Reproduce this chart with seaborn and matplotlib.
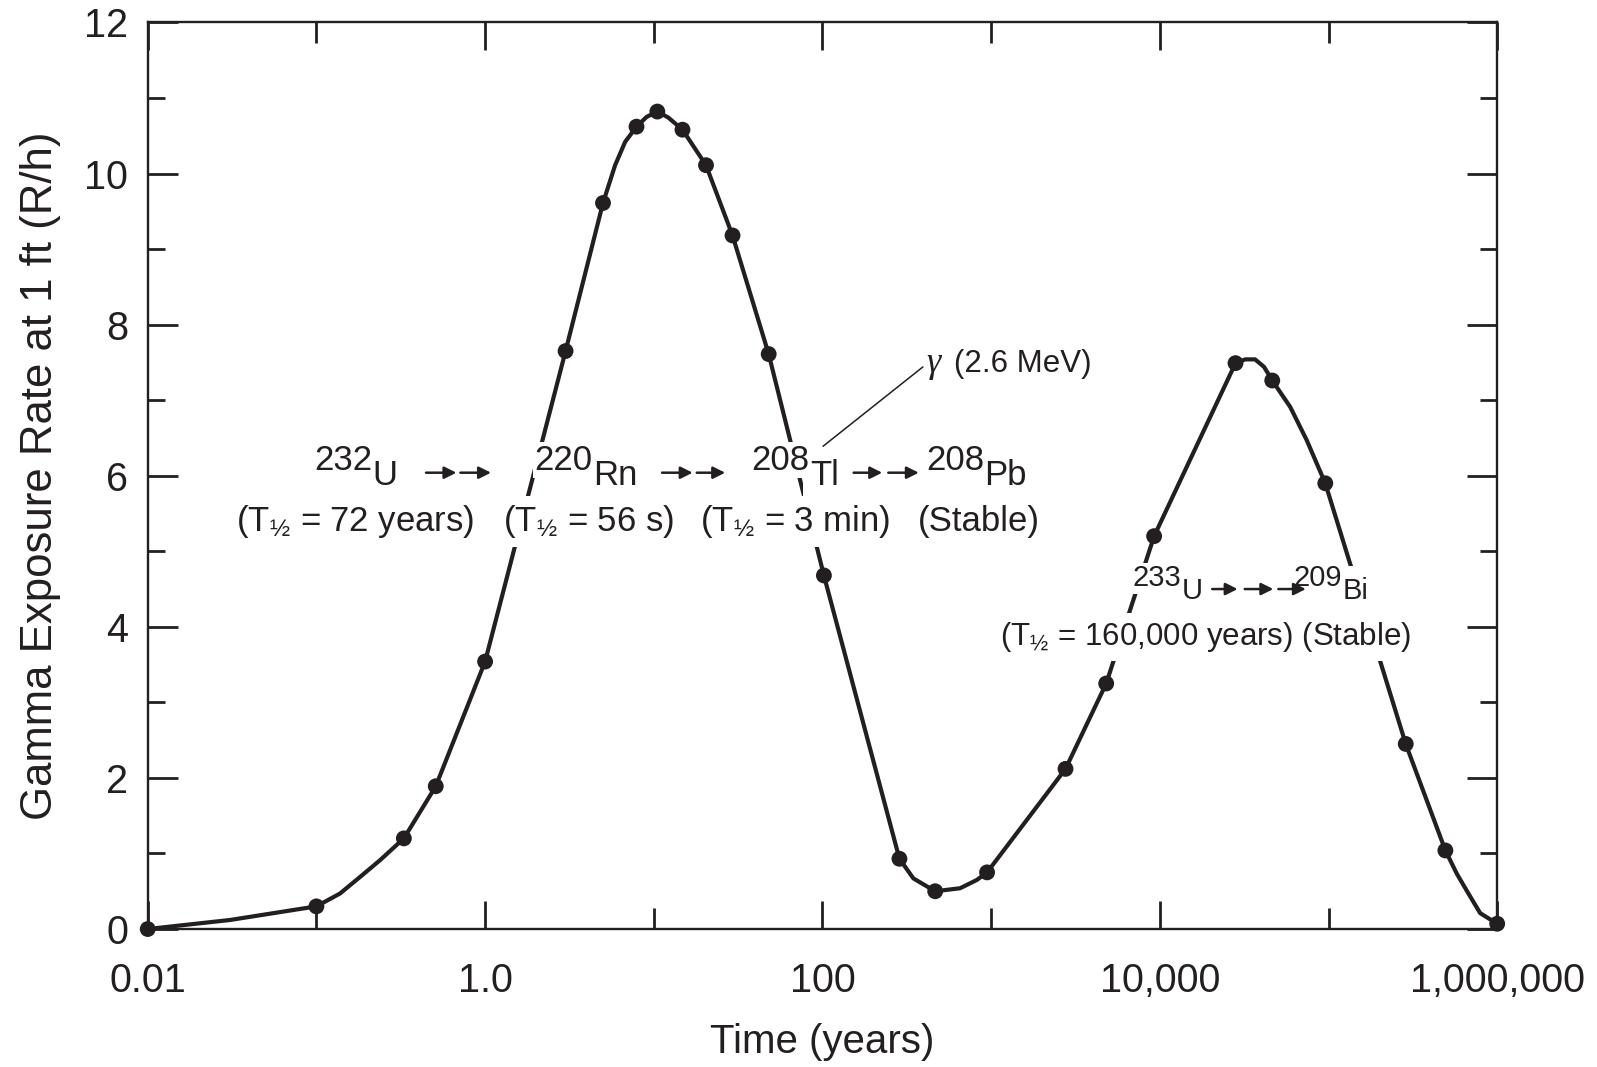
import numpy as np
import pandas as pd
import seaborn as sns
import matplotlib
matplotlib.use('Agg')
import matplotlib.pyplot as plt

# =============================================================================
# Data
# =============================================================================
# measured points (dots)
time_years = [0.01, 0.1, 0.33, 0.51, 1.0, 3.0, 5.0, 7.9, 10.5, 14.8, 20.4,
              29.3, 48, 102, 286, 466, 946, 2760, 4810, 9250, 28100, 46400,
              95700, 287000, 493000, 1.0e6]
exposure = [0.0, 0.30, 1.20, 1.89, 3.54, 7.65, 9.61, 10.62, 10.82, 10.58,
            10.11, 9.18, 7.61, 4.68, 0.93, 0.50, 0.75, 2.12, 3.25, 5.20,
            7.49, 7.26, 5.90, 2.45, 1.04, 0.07]

# the drawn curve: dots plus extra points
curve_time = [0.01, 0.0308, 0.1, 0.138, 0.1816, 0.238, 0.33, 0.51, 1.0,
              3.0, 5.0, 5.90, 6.77, 7.9, 9.08, 10.5, 12.2, 14.8, 20.4, 29.3,
              48, 102, 286, 346, 466, 655, 823, 946, 2760, 4810, 9250,
              28100, 32100, 36700, 41500, 46400, 59300, 74300, 95700,
              287000, 493000, 577000, 692000, 793000, 1.0e6]
curve_rate = [0.0, 0.12, 0.30, 0.47, 0.69, 0.91, 1.20, 1.89, 3.54,
              7.65, 9.61, 10.11, 10.42, 10.62, 10.75, 10.82, 10.74, 10.58,
              10.11, 9.18, 7.61, 4.68, 0.93, 0.67, 0.50, 0.54, 0.65, 0.75,
              2.12, 3.25, 5.20, 7.49, 7.54, 7.54, 7.44, 7.26, 6.91,
              6.47, 5.90, 2.45, 1.04, 0.73, 0.43, 0.21, 0.07]

x_major = [0.01, 1.0, 100, 1e4, 1e6]
x_minor = [0.1, 10, 1e3, 1e5]
x_labels = ['0.01', '1.0', '100', '10,000', '1,000,000']

k = '#231f20'

sns.set_theme(style='ticks')
plt.rcParams['font.family'] = ['Liberation Sans', 'DejaVu Sans']
plt.rcParams['mathtext.fontset'] = 'custom'
plt.rcParams['mathtext.rm'] = 'Liberation Sans'
plt.rcParams['mathtext.it'] = 'Liberation Sans:italic'
plt.rcParams['mathtext.default'] = 'regular'

pts = pd.DataFrame({'time': time_years, 'rate': exposure})
curve = pd.DataFrame({'time': curve_time, 'rate': curve_rate})

fig, ax = plt.subplots(figsize=(15.97, 10.67), dpi=100)
fig.subplots_adjust(left=0.0925, right=0.9375, bottom=0.1293, top=0.979)

sns.lineplot(data=curve, x='time', y='rate', ax=ax, color=k, lw=3.0,
             sort=False, estimator=None, zorder=2)
sns.scatterplot(data=pts, x='time', y='rate', ax=ax, color=k, s=130,
                edgecolor='none', zorder=4)
ax.collections[-1].set_clip_on(False)

ax.set_xscale('log')
ax.set_xlim(0.01, 1e6)
ax.set_ylim(0, 12)
ax.set_xticks(x_major)
ax.set_xticklabels(x_labels)
ax.set_xticks(x_minor, minor=True)
ax.set_xticklabels([], minor=True)
ax.set_yticks(range(0, 13, 2))
ax.set_yticks(range(1, 12, 2), minor=True)

ax.tick_params(which='both', direction='in', top=True, right=True,
               color=k, width=2.0, labelsize=28.5, labelcolor=k)
ax.tick_params(axis='x', which='major', length=20, pad=24)
ax.tick_params(axis='x', which='minor', length=15)
ax.tick_params(axis='y', which='major', length=21.5, pad=14)
ax.tick_params(axis='y', which='minor', length=12)
for sp in ax.spines.values():
    sp.set_linewidth(1.7)
    sp.set_color(k)

ax.set_xlabel('Time (years)', fontsize=29, color=k, labelpad=16)
ax.set_ylabel('Gamma Exposure Rate at 1 ft (R/h)', fontsize=31.5, color=k,
              labelpad=17)

# =============================================================================
# Decay chain labels
# =============================================================================
box = dict(facecolor='white', edgecolor='none', pad=5)
tight_box = dict(facecolor='white', edgecolor='none', pad=1)
wide_box = dict(facecolor='white', edgecolor='none', pad=8)


def nuclide(x, y, mass, sym, size, rise, sym_box=box):
    ax.text(x, y, sym, ha='left', va='baseline', fontsize=size, color=k,
            bbox=sym_box, zorder=3)
    ax.annotate(mass, xy=(x, y), xytext=(0, rise), textcoords='offset points',
                ha='right', va='baseline', fontsize=size, color=k,
                bbox=tight_box, zorder=3.5)


def arrow(x0, x1, y):
    ax.annotate('', xy=(x1, y), xytext=(x0, y),
                arrowprops=dict(arrowstyle='-|>', color=k, lw=1.8,
                                mutation_scale=18, shrinkA=0, shrinkB=0),
                zorder=5)


# Th series
for x, sym, mass in [(0.216, 'U', '232'), (4.35, 'Rn', '220'),
                     (84.1, 'Tl', '208'), (908, 'Pb', '208')]:
    nuclide(x, 5.88, mass, sym, 25, 11)
for x0, x1 in [(0.4465, 0.676), (0.714, 1.084), (11.2, 17.0), (17.98, 26.5),
               (153, 226), (245.6, 372.6)]:
    arrow(x0, x1, 6.04)

for x, s in [(0.1706, '(T$_{½}$ = 72 years)'), (4.12, '(T$_{½}$ = 56 s)'),
             (69.3, '(T$_{½}$ = 3 min)'), (847, '(Stable)')]:
    ax.text(x, 5.27, s, ha='center', va='baseline', fontsize=25, color=k,
            bbox=box, zorder=3)

# gamma line
ax.plot([100.8, 394], [6.39, 7.44], color=k, lw=1.1, zorder=5)
ax.text(415, 7.37, 'γ', fontsize=26, color=k, style='italic',
        family=['Liberation Serif', 'DejaVu Serif'], ha='left', va='baseline')
ax.text(606, 7.37, '(2.6 MeV)', fontsize=22.5, color=k, ha='left',
        va='baseline')

# U-233 series
nuclide(13460, 4.37, '233', 'U', 21, 9, wide_box)
nuclide(121000, 4.37, '209', 'Bi', 21, 9, wide_box)
for x0, x1 in [(20430, 28930), (31880, 47070), (50450, 73420)]:
    arrow(x0, x1, 4.50)
ax.text(18800, 3.76, '(T$_{½}$ = 160,000 years) (Stable)', ha='center',
        va='baseline', fontsize=22.5, color=k, bbox=box, zorder=3)

fig.savefig('out.png', dpi=100)
